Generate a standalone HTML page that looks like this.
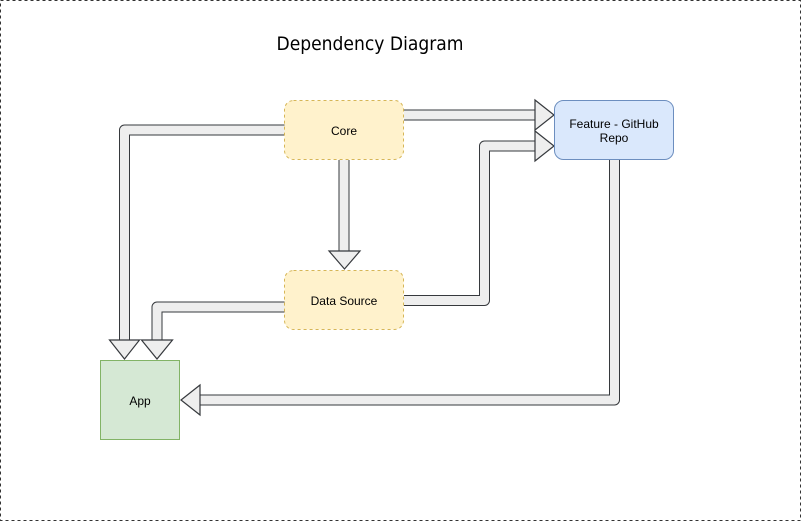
<!DOCTYPE html>
<html><head><style>html,body{margin:0;padding:0;background:#fff}svg{display:block}</style></head>
<body>
<svg width="801" height="521" viewBox="0 0 801 521" xmlns="http://www.w3.org/2000/svg" font-family="Liberation Sans, sans-serif">
<rect x="0.5" y="0.5" width="800" height="520" fill="#fff" stroke="#333" stroke-dasharray="3,3"/>
<text x="370" y="50" font-size="19" text-anchor="middle" textLength="187" lengthAdjust="spacingAndGlyphs" font-family="DejaVu Sans, sans-serif">Dependency Diagram</text>
<g fill="none" stroke-linejoin="round">
<g stroke="#36393d" stroke-width="11">
<polyline points="285,130 124.5,130 124.5,342"/>
<polyline points="285,307 157,307 157,342"/>
<polyline points="344,160 344,253"/>
<polyline points="404,115 537,115"/>
<polyline points="404,300.5 484.5,300.5 484.5,146 537,146"/>
<polyline points="614.5,160 614.5,400 198,400"/>
</g>
<g stroke="#eeeeee" stroke-width="9">
<polyline points="285,130 124.5,130 124.5,343"/>
<polyline points="285,307 157,307 157,343"/>
<polyline points="344,160 344,254"/>
<polyline points="404,115 538,115"/>
<polyline points="404,300.5 484.5,300.5 484.5,146 538,146"/>
<polyline points="614.5,160 614.5,400 197,400"/>
</g>
</g>
<g fill="#eeeeee" stroke="#36393d" stroke-width="1.2" stroke-linejoin="miter">
<polygon points="109.5,340 119.5,340 129.5,340 139.5,340 124.5,359"/>
<polygon points="141.5,340 172.5,340 157,359"/>
<polygon points="329,251 360,251 344.5,269"/>
<polygon points="535,100 554,115 535,130"/>
<polygon points="535,131 554,146 535,161"/>
<polygon points="200,385 181,400 200,415"/>
</g>
<rect x="284.5" y="100.5" width="119" height="59" rx="9" fill="#fff2cc" stroke="#d6b656" stroke-dasharray="3,3"/>
<text x="344" y="135" font-size="12" text-anchor="middle">Core</text>
<rect x="284.5" y="270.5" width="119" height="59" rx="9" fill="#fff2cc" stroke="#d6b656" stroke-dasharray="3,3"/>
<text x="344" y="305" font-size="12" text-anchor="middle">Data Source</text>
<rect x="554.5" y="100.5" width="119" height="59" rx="9" fill="#dae8fc" stroke="#6c8ebf"/>
<text x="614" y="128" font-size="12" text-anchor="middle">Feature - GitHub</text>
<text x="614" y="142" font-size="12" text-anchor="middle">Repo</text>
<rect x="100.5" y="360.5" width="79" height="79" fill="#d5e8d4" stroke="#82b366"/>
<text x="140" y="405" font-size="12" text-anchor="middle">App</text>
</svg>
</body></html>
